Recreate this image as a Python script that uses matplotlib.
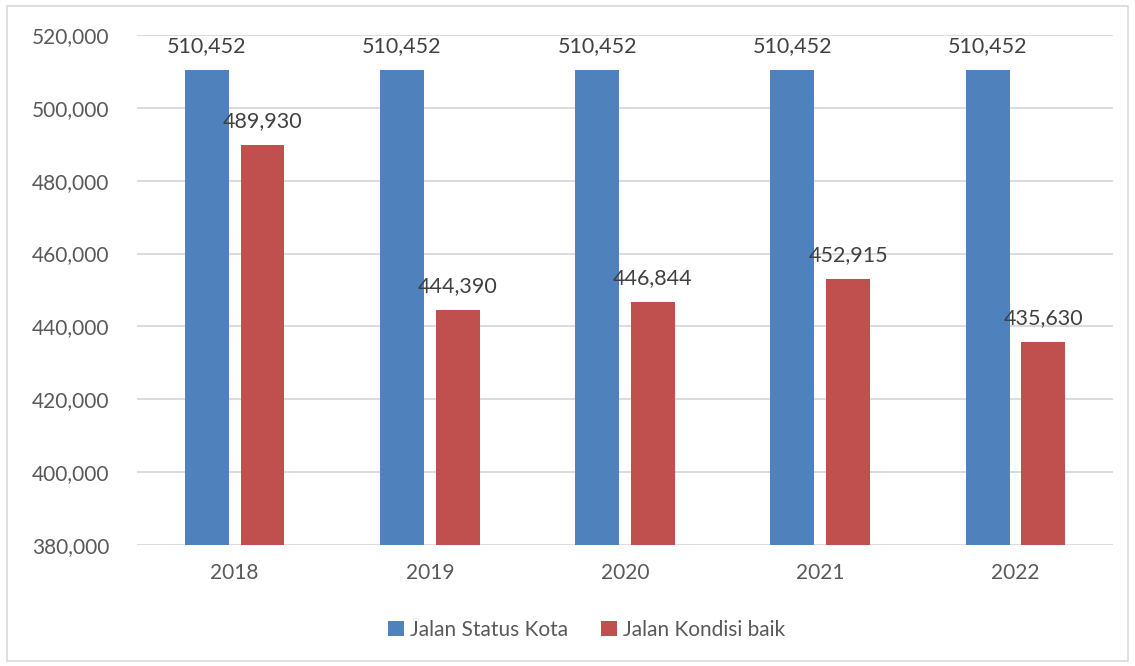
import numpy as np
import matplotlib.pyplot as plt
import matplotlib.patches as patches
from matplotlib.ticker import FuncFormatter

tahun = ['2018', '2019', '2020', '2021', '2022']
status_kota = [510452, 510452, 510452, 510452, 510452]
kondisi_baik = [489930, 444390, 446844, 452915, 435630]
label_seri = ['Jalan Status Kota', 'Jalan Kondisi baik']

biru = '#4F81BD'
merah = '#C0504D'
abu_teks = '#595959'

plt.rcParams['font.family'] = ['Lato', 'DejaVu Sans']

fig = plt.figure(figsize=(11.35, 6.66), dpi=100)
ax = fig.add_axes([0.1207, 0.1817, 0.86, 0.7657])

# bingkai abu-abu di sekeliling gambar
fig.patches.append(patches.Rectangle((7 / 1135, 5 / 666), 1121 / 1135, 655 / 666,
                                     transform=fig.transFigure, fill=False,
                                     edgecolor='#D9D9D9', linewidth=1.2))

x = np.arange(len(tahun))
lebar = 0.225
geser = 0.143
b1 = ax.bar(x - geser, status_kota, lebar, color=biru, label=label_seri[0], zorder=3)
b2 = ax.bar(x + geser, kondisi_baik, lebar, color=merah, label=label_seri[1], zorder=3)

for bars in (b1, b2):
    for b in bars:
        ax.annotate('{:,}'.format(int(b.get_height())),
                    (b.get_x() + b.get_width() / 2, b.get_height()),
                    xytext=(0, 10), textcoords='offset points',
                    ha='center', va='bottom', fontsize=15.5, color='#404040')

ax.set_ylim(380000, 520000)
ax.set_xlim(-0.5, len(tahun) - 0.5)
ax.set_yticks(np.arange(380000, 520001, 20000))
ax.yaxis.set_major_formatter(FuncFormatter(lambda v, p: '{:,}'.format(int(v))))
ax.set_xticks(x)
ax.set_xticklabels(tahun)
ax.grid(True, axis='y', color='#D9D9D9', linewidth=1.3, zorder=0)
for s in ax.spines.values():
    s.set_visible(False)
ax.tick_params(axis='both', length=0, labelsize=15, colors=abu_teks)
ax.tick_params(axis='x', pad=13)
ax.tick_params(axis='y', pad=20)

fig.legend(loc='center', bbox_to_anchor=(0.517, 0.054), ncol=2, frameon=False,
           fontsize=15, labelcolor=abu_teks, handlelength=0.75, handleheight=0.75,
           handletextpad=0.3, columnspacing=1.6)

fig.savefig('out.png', dpi=100)
